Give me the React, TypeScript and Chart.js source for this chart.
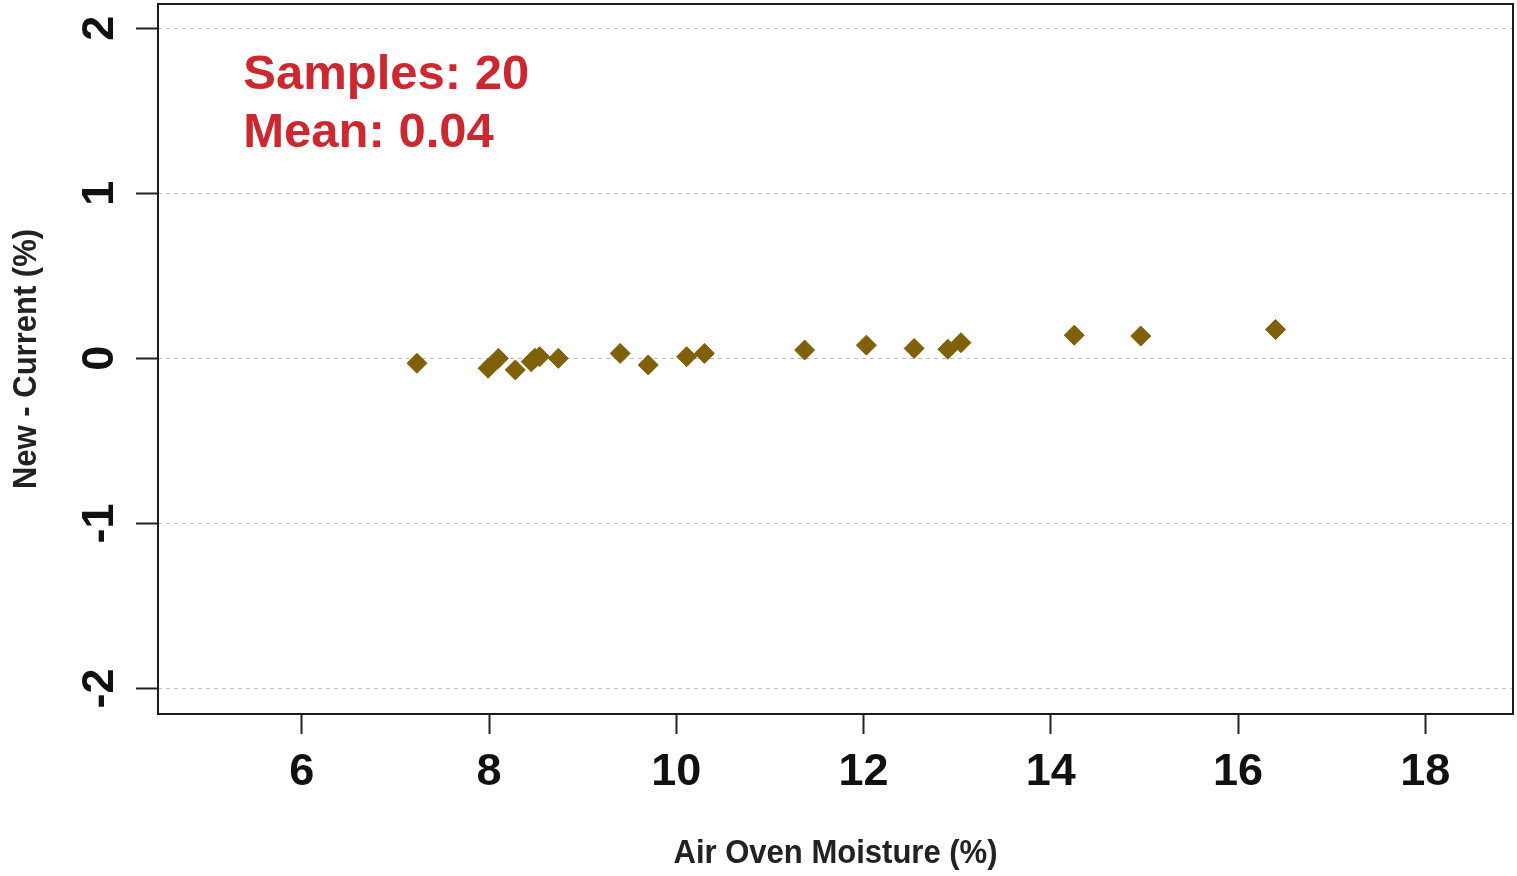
import React, { useEffect, useRef } from "react";
import { Chart, registerables } from "chart.js";

Chart.register(...registerables);

// ---- data ----
const moistureX = [7.23, 7.99, 8.1, 8.28, 8.45, 8.49, 8.54, 8.74, 9.4, 9.7, 10.11, 10.3, 11.37, 12.03, 12.54, 12.9, 13.04, 14.25, 14.96, 16.4];
const differenceY = [-0.03, -0.06, 0.0, -0.07, -0.02, 0.0, 0.01, 0.0, 0.03, -0.04, 0.01, 0.03, 0.05, 0.08, 0.06, 0.055, 0.095, 0.14, 0.135, 0.175];
const xTickValues = [6, 8, 10, 12, 14, 16, 18];
const yTickValues = [-2, -1, 0, 1, 2];
const xRange = [4.464, 18.936];
const yRange = [-2.155, 2.147];
const annotationLines = ["Samples: 20", "Mean: 0.04"];
const annotationX = 5.374;
const annotationY = [1.741, 1.384];
const xTitle = "Air Oven Moisture (%)";
const yTitle = "New - Current (%)";

const FONT = '"Liberation Sans", Arial, Helvetica, sans-serif';
const POINT_COLOR = "#806008";
const TEXT_RED = "#cc2830";

const overlay = {
  id: "overlay",
  afterDraw(chart: any) {
    const { ctx, chartArea } = chart;
    const xs = chart.scales.x;
    const ys = chart.scales.y;
    ctx.save();
    // box
    ctx.strokeStyle = "#1c1c1c";
    ctx.lineWidth = 2;
    ctx.setLineDash([]);
    ctx.strokeRect(chartArea.left, chartArea.top, chartArea.right - chartArea.left, chartArea.bottom - chartArea.top);

    // x tick labels
    ctx.fillStyle = "#111";
    ctx.font = `bold 45px ${FONT}`;
    ctx.textAlign = "center";
    ctx.textBaseline = "alphabetic";
    xs.ticks.forEach((t: any) => {
      ctx.fillText(String(t.value), xs.getPixelForValue(t.value), chartArea.bottom + 71);
    });
    // y tick labels (rotated)
    ys.ticks.forEach((t: any) => {
      ctx.save();
      ctx.translate(chartArea.left - 45, ys.getPixelForValue(t.value));
      ctx.rotate(-Math.PI / 2);
      ctx.fillText(String(t.value), 0, 0);
      ctx.restore();
    });

    // axis titles
    ctx.fillStyle = "#222";
    ctx.font = `bold 33px ${FONT}`;
    ctx.save();
    ctx.translate((chartArea.left + chartArea.right) / 2, chartArea.bottom + 149);
    ctx.scale(0.94, 1);
    ctx.fillText(xTitle, 0, 0);
    ctx.restore();

    ctx.save();
    ctx.translate(chartArea.left - 122, (chartArea.top + chartArea.bottom) / 2);
    ctx.rotate(-Math.PI / 2);
    ctx.scale(0.94, 1);
    ctx.fillText(yTitle, 0, 0);
    ctx.restore();

    // annotation
    ctx.fillStyle = TEXT_RED;
    const fs = 49;
    ctx.font = `bold ${fs}px ${FONT}`;
    ctx.textAlign = "left";
    annotationLines.forEach((line, i) => {
      const px = xs.getPixelForValue(annotationX);
      const py = ys.getPixelForValue(annotationY[i]) + fs * 0.716 / 2;
      ctx.fillText(line, px, py);
    });
    ctx.restore();
  },
};

export default function App() {
  const canvasRef = useRef<HTMLCanvasElement | null>(null);

  useEffect(() => {
    if (!canvasRef.current) return;
    const chart = new Chart(canvasRef.current, {
      type: "scatter",
      data: {
        datasets: [
          {
            data: moistureX.map((x, i) => ({ x, y: differenceY[i] })),
            backgroundColor: POINT_COLOR,
            borderColor: POINT_COLOR,
            borderWidth: 1,
            pointStyle: "rectRot",
            pointRadius: 10,
            pointHoverRadius: 10,
          },
        ],
      },
      options: {
        animation: false,
        responsive: true,
        maintainAspectRatio: false,
        layout: { autoPadding: false, padding: { top: 4, right: 4, left: 0, bottom: 0 } } as any,
        plugins: { legend: { display: false }, tooltip: { enabled: false } },
        scales: {
          x: {
            type: "linear",
            min: xRange[0],
            max: xRange[1],
            afterBuildTicks: (s: any) => {
              s.ticks = xTickValues.map((v) => ({ value: v }));
            },
            afterFit: (s: any) => {
              s.height = 162;
            },
            ticks: { display: false },
            grid: {
              drawOnChartArea: false,
              drawTicks: true,
              tickLength: 20,
              tickColor: "#222",
              tickWidth: 2,
            },
            border: { display: false },
          },
          y: {
            type: "linear",
            min: yRange[0],
            max: yRange[1],
            afterBuildTicks: (s: any) => {
              s.ticks = yTickValues.map((v) => ({ value: v }));
            },
            afterFit: (s: any) => {
              s.width = 158;
            },
            ticks: { display: false },
            grid: {
              color: "#bdbdbd",
              lineWidth: 1,
              drawTicks: true,
              tickLength: 22,
              tickColor: "#222",
              tickWidth: 2,
              tickBorderDash: [],
            } as any,
            border: { display: false, dash: [4, 4] },
          },
        },
      },
      plugins: [overlay],
    });
    return () => chart.destroy();
  }, []);

  return (
    <div style={{ position: "absolute", left: 0, top: 0, width: 1517, height: 876, background: "#fff" }}>
      <canvas ref={canvasRef} />
    </div>
  );
}
